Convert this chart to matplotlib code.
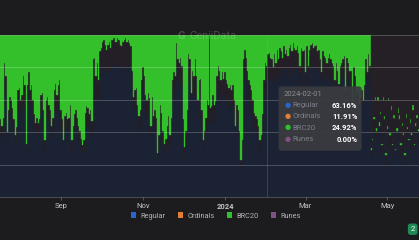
import numpy as np
import pandas as pd
import matplotlib
matplotlib.use('Agg')
import matplotlib.pyplot as plt
import matplotlib.dates as mdates
from matplotlib.patches import Patch, FancyBboxPatch

plt.rcParams['font.family'] = ['Roboto', 'DejaVu Sans']

# daily share of transactions (%), 2023-07-18 .. 2024-05-24
start_date = '2023-07-18'

regular = [
    39, 36, 39, 71, 64, 32, 45, 52, 49, 46, 40, 31, 34, 54, 56, 50, 53, 63, 58, 26,
    58, 65, 56, 58, 50, 42, 38, 40, 38, 39, 52, 53, 44, 28, 50, 51, 47, 45, 36, 40,
    54, 58, 52, 57, 59, 44, 39, 28, 41, 42, 39, 40, 47, 28, 36, 42, 44, 40, 36, 33,
    29, 26, 28, 42, 45, 45, 42, 44, 38, 71, 72, 62, 69, 60, 75, 76, 81, 81, 79, 77,
    79, 80, 77, 81, 81, 82, 81, 82, 81, 79, 78, 80, 81, 81, 80, 82, 80, 79, 66, 51,
    55,
    56, 47, 41, 44, 60, 67, 63, 52, 50, 53, 51, 36, 51, 41, 44, 40, 21, 30, 46, 42,
    33, 26, 28, 35, 40, 30, 40, 60, 64, 63, 80, 71, 69, 72, 68, 39, 24, 33, 44, 74,
    71, 52, 65, 62, 71, 62, 49, 60, 60, 44, 28, 33, 40, 49, 46, 45, 45, 52, 47, 48,
    62, 67, 65, 60, 64, 61, 64, 60, 58, 55, 57, 54, 57, 49, 35, 46, 44, 33, 18, 28,
    71, 76, 72, 65, 60, 57, 54, 49, 42, 40, 38, 35, 28, 30, 41, 60, 69, 68, 74, 75,
    72,
    73, 69, 75, 71, 77, 73, 79, 78, 74, 79, 75, 79, 74, 78, 81, 78, 81, 79, 79, 79,
    76, 70, 79, 78, 78, 66, 79, 70, 78, 80, 81, 79, 79, 80, 77, 78, 73, 66, 77, 75,
    74, 71, 74, 75, 73, 71, 70, 62, 71, 67, 60, 70, 71, 73, 75, 56, 74, 71, 67, 67,
    51, 69, 65, 54, 56, 49, 52, 57, 52, 59, 74, 67, 76, 70,
    22, 27, 39, 52, 34, 51, 36, 43, 26, 51, 40, 20, 35, 51, 31, 46, 26, 41, 23, 34,
    44, 40, 25, 36, 31, 20, 41, 35, 29, 38, 31, 45, 26, 36, 41, 34,
]

ordinals = [
    9, 8, 10, 12, 11, 8, 9, 10, 11, 9, 8, 7, 9, 12, 11, 10, 10, 12, 11, 7,
    11, 12, 10, 11, 10, 9, 8, 9, 8, 9, 11, 11, 10, 7, 10, 11, 10, 9, 8, 9,
    12, 12, 11, 12, 13, 10, 9, 7, 9, 10, 9, 9, 10, 7, 8, 9, 10, 9, 8, 8,
    7, 6, 7, 10, 11, 10, 9, 10, 9, 14, 14, 13, 14, 12, 15, 16, 15, 16, 15, 14,
    15, 16, 15, 16, 17, 16, 15, 16, 16, 15, 15, 16, 16, 17, 16, 15, 15, 14, 12, 11,
    11,
    11, 10, 9, 10, 12, 13, 12, 11, 10, 11, 10, 8, 11, 9, 10, 9, 6, 8, 11, 10,
    8, 7, 8, 9, 10, 8, 9, 12, 13, 12, 15, 14, 14, 14, 13, 9, 7, 8, 10, 14,
    14, 12, 13, 13, 14, 13, 11, 12, 13, 10, 7, 8, 9, 11, 11, 10, 11, 11, 10, 11,
    13, 14, 13, 12, 13, 12, 13, 12, 12, 12, 12, 12, 12, 11, 9, 11, 10, 8, 5, 7,
    14, 15, 14, 13, 12, 12, 12, 11, 10, 10, 10, 9, 7, 8, 10, 12, 14, 13, 14, 14,
    14,
    12, 11, 13, 12, 14, 12, 13, 12, 12, 14, 13, 12, 13, 14, 13, 12, 14, 13, 12, 14,
    13, 11, 13, 12, 13, 11, 14, 11, 13, 14, 14, 13, 14, 14, 13, 13, 12, 11, 13, 12,
    12, 12, 12, 13, 12, 12, 11, 10, 12, 11, 10, 11, 12, 12, 12, 10, 12, 12, 11, 11,
    9, 11, 10, 9, 9, 8, 9, 9, 8, 10, 11, 10, 12, 11,
    7, 8, 9, 8, 7, 9, 8, 8, 6, 9, 8, 6, 7, 9, 7, 8, 6, 8, 6, 7,
    8, 8, 7, 8, 7, 6, 8, 7, 6, 8, 7, 9, 6, 8, 8, 7,
]

brc20 = [
    52, 56, 51, 17, 25, 60, 46, 38, 40, 45, 52, 62, 57, 34, 33, 40, 37, 25, 31, 67,
    31, 23, 34, 31, 40, 49, 54, 51, 54, 52, 37, 36, 46, 65, 40, 38, 43, 46, 56, 51,
    34, 30, 37, 31, 28, 46, 52, 65, 50, 48, 52, 51, 43, 65, 56, 49, 46, 51, 56, 59,
    64, 68, 65, 48, 44, 45, 49, 46, 53, 15, 14, 25, 17, 28, 10, 8, 4, 3, 6, 9,
    6, 4, 8, 3, 2, 2, 4, 2, 3, 6, 7, 4, 3, 2, 4, 3, 5, 7, 22, 38,
    34,
    33, 43, 50, 46, 28, 20, 25, 37, 40, 36, 39, 56, 38, 50, 46, 51, 73, 62, 43, 48,
    59, 67, 64, 56, 50, 62, 51, 28, 23, 25, 5, 15, 17, 14, 19, 52, 69, 59, 46, 12,
    15, 36, 22, 25, 15, 25, 40, 28, 27, 46, 65, 59, 51, 40, 43, 45, 44, 37, 43, 41,
    25, 19, 22, 28, 23, 27, 23, 28, 30, 33, 31, 34, 31, 40, 56, 43, 46, 59, 77, 65,
    15, 9, 14, 22, 28, 31, 34, 40, 48, 50, 52, 56, 65, 62, 49, 28, 17, 19, 12, 11,
    14,
    15, 20, 12, 17, 9, 15, 8, 10, 14, 7, 12, 9, 13, 8, 6, 10, 5, 8, 9, 7,
    11, 19, 8, 10, 9, 23, 7, 19, 9, 6, 5, 8, 7, 6, 10, 9, 15, 23, 10, 13,
    14, 17, 14, 12, 15, 17, 19, 28, 17, 22, 30, 19, 17, 15, 13, 34, 14, 17, 22, 22,
    40, 20, 25, 37, 35, 43, 39, 34, 40, 31, 15, 23, 12, 19,
    1.5, 1, 1.2, 2, 1.5, 1.8, 2.5, 1.5, 0.8, 1.5, 2, 1, 1.8, 1.2, 1.5, 2.5, 1, 1.5, 0.8, 1.8,
    3, 2.5, 1.2, 2, 1.5, 1, 2.5, 1.5, 1, 2, 1.5, 3, 1, 2, 1.5, 1.2,
]

runes = [0.0] * 276 + [
    69.5, 64, 50.8, 38, 57.5, 38.2, 53.5, 47.5, 67.2, 38.5, 50, 73, 56.2, 38.8, 60.5, 43.5,
    67, 49.5, 70.2, 57.2, 45, 49.5, 66.8, 54, 60.5, 73, 48.5, 56.5, 64, 52, 60.5, 43,
    67, 54, 49.5, 57.8,
]

series_names = ['Regular', 'Ordinals', 'BRC20', 'Runes']
legend_colors = ['#2a64cc', '#e27d38', '#2ec22e', '#7e5383']
# BRC20 is highlighted, the others are dimmed
bar_colors = ['#1a2233', '#241f27', '#33c02a', '#242026']

tick_dates = ['2023-09-01', '2023-11-01', '2024-01-01', '2024-03-01', '2024-05-01']
tick_labels = ['Sep', 'Nov', '2024', 'Mar', 'May']

tip_date = '2024-02-01'
tip_values = ['63.16%', '11.91%', '24.92%', '0.00%']

dates = pd.date_range(start_date, periods=len(regular), freq='D')
x = mdates.date2num(dates)

fig = plt.figure(figsize=(4.19, 2.40), dpi=100, facecolor='#1c1c1f')
ax = fig.add_axes([0, 0.179, 1, 0.675])
ax.set_facecolor('#1a2130')

bottom = np.zeros(len(x))
for vals, col in zip([regular, ordinals, brc20, runes], bar_colors):
    vals = np.array(vals, dtype=float)
    ax.bar(x, vals, bottom=bottom, width=1.0, color=col, edgecolor=col,
           linewidth=0.25, zorder=2)
    bottom += vals

ax.set_xlim(x[0] - 0.5, x[-1] + 0.5)
ax.set_ylim(0, 100)

for v in [0, 20, 40, 60, 80, 100]:
    ax.axhline(v, color='white', alpha=0.22, lw=0.7, zorder=3, clip_on=False)

# hover crosshair
ax.axvline(mdates.date2num(pd.Timestamp(tip_date)), color='#9aa0aa', alpha=0.3, lw=0.6, zorder=3)

for s in ax.spines.values():
    s.set_visible(False)
ax.set_yticks([])
ax.set_xticks(mdates.date2num(pd.to_datetime(tick_dates)))
ax.set_xticklabels(tick_labels)
ax.tick_params(axis='x', colors='#666a72', labelcolor='#c4c4c4', labelsize=5.5,
               length=2, width=0.5, pad=2.5)
for lbl in ax.get_xticklabels():
    if lbl.get_text() == '2024':
        lbl.set_fontweight('bold')

# watermark
fig.text(0.432, 0.848, 'G', color='white', alpha=0.2, fontsize=8, fontweight='bold',
         ha='center', va='center')
fig.text(0.452, 0.848, 'GeniiData', color='white', alpha=0.2, fontsize=7.8,
         ha='left', va='center')

# legend
handles = [Patch(facecolor=c, edgecolor='none') for c in legend_colors]
fig.legend(handles, series_names, loc='center', bbox_to_anchor=(0.515, 0.1), ncol=4,
           frameon=False, fontsize=5.3, labelcolor='#b4b4b4', handlelength=0.7,
           handleheight=0.7, handletextpad=0.6, columnspacing=1.7)

# tooltip
tip = FancyBboxPatch((0.665, 0.372), 0.198, 0.268, transform=fig.transFigure,
                     boxstyle='round,pad=0,rounding_size=0.008', facecolor='#3a3b41',
                     edgecolor='none', alpha=0.93, zorder=5)
fig.patches.append(tip)
fig.text(0.677, 0.607, tip_date, color='#8a8d94', fontsize=5.5, va='center', zorder=6)
row_y = [0.561, 0.515, 0.467, 0.419]
for yy, name, col, val in zip(row_y, series_names, legend_colors, tip_values):
    fig.text(0.686, yy, '\u25cf', color=col, fontsize=5, ha='center', va='center', zorder=6)
    fig.text(0.697, yy, name, color='#7c808a', fontsize=5.5, va='center', zorder=6)
    fig.text(0.853, yy, val, color='white', fontsize=5.5, fontweight='bold',
             ha='right', va='center', zorder=6)

# page badge bottom right
fig.text(0.985, 0.045, '2', color='white', fontsize=5.5, ha='center', va='center',
         bbox=dict(boxstyle='round,pad=0.35', facecolor='#1f8a55', edgecolor='none'))

fig.savefig('out.png', dpi=100, facecolor=fig.get_facecolor())
